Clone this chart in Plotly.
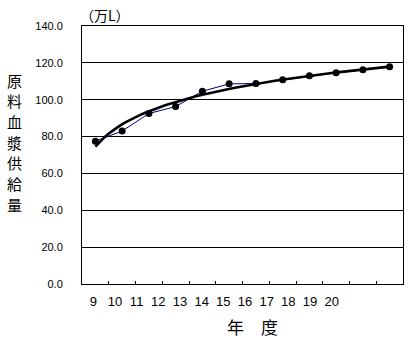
import numpy as np
import plotly.graph_objects as go

years = [9, 10, 11, 12, 13, 14, 15, 16, 17, 18, 19, 20]
idx = list(range(1, 13))
supply = [77.5, 83.0, 92.5, 96.3, 104.6, 108.6, 108.8, 110.8, 113.0, 114.6, 116.2, 117.9]
y_ticks = [0, 20, 40, 60, 80, 100, 120, 140]
y_title = "原料血漿供給量"

# logarithmic trendline fitted to the data
a, b = np.polyfit(np.log(idx), supply, 1)
xs = np.linspace(1, 12, 60)
trend = a * np.log(xs) + b

fig = go.Figure()
fig.add_trace(go.Scatter(x=idx, y=supply, mode="lines+markers",
                         line=dict(color="#000080", width=1),
                         marker=dict(color="black", size=7),
                         showlegend=False, hoverinfo="skip"))
fig.add_trace(go.Scatter(x=xs, y=trend, mode="lines",
                         line=dict(color="black", width=2.6),
                         showlegend=False, hoverinfo="skip"))
fig.add_trace(go.Scatter(x=years, y=[None] * len(years), xaxis="x2",
                         mode="markers", showlegend=False, hoverinfo="skip"))

fig.update_layout(
    width=408, height=338,
    margin=dict(l=82, r=5, t=26, b=54),
    paper_bgcolor="white", plot_bgcolor="white",
    font=dict(family="Liberation Sans, Arial", color="black"),
    xaxis=dict(range=[0.5, 12.5], tickvals=[i + 0.5 for i in range(1, 12)],
               ticks="inside", ticklen=3, tickcolor="black",
               showticklabels=False, showgrid=False, zeroline=False,
               showline=True, linecolor="black", linewidth=1, mirror=True),
    xaxis2=dict(overlaying="x", side="bottom", anchor="y",
                range=[8.48, 23.29], tickvals=years,
                ticktext=[str(v) for v in years],
                ticks="", showline=False, showgrid=False, zeroline=False,
                tickfont=dict(size=13, family="Liberation Sans, Arial"),
                ticklabelstandoff=8),
    yaxis=dict(range=[0, 140], tickvals=y_ticks,
               ticktext=[f"{v:.1f}" for v in y_ticks],
               showgrid=True, gridcolor="black", gridwidth=1,
               zeroline=False, showline=True, linecolor="black", linewidth=1,
               mirror=True, ticks="", tickfont=dict(size=11),
               ticklabelstandoff=16),
)

fig.add_annotation(text="（万L）", xref="paper", yref="paper",
                   x=-0.012, y=1.0, yshift=11, showarrow=False, yanchor="middle",
                   font=dict(size=14, family="Noto Sans CJK JP"))
for i, ch in enumerate(y_title):
    fig.add_annotation(text=ch, xref="paper", yref="paper",
                       x=-0.209, xanchor="center", y=1.0, yanchor="middle",
                       yshift=-(54 + i * 20.7), showarrow=False,
                       font=dict(size=15, family="Noto Sans CJK JP"))
fig.add_annotation(text="年　度", xref="paper", yref="paper",
                   x=0.53, y=0, yshift=-42, showarrow=False, yanchor="middle",
                   font=dict(size=17, family="Noto Sans CJK JP"))

fig.write_html("out.html")
